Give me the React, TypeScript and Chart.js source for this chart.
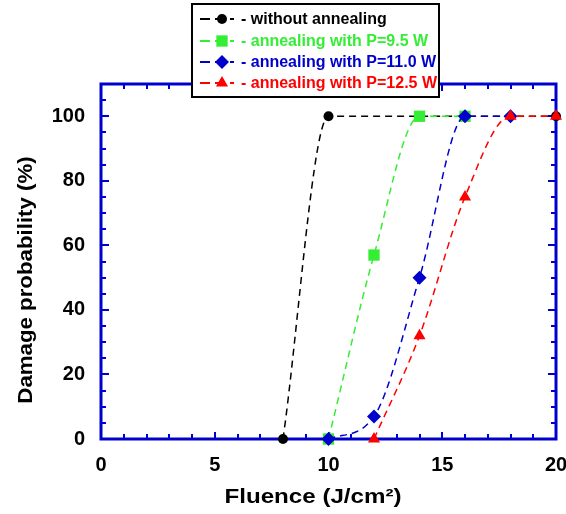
import React, { useEffect, useRef } from 'react';
import { Chart, registerables } from 'chart.js';
Chart.register(...registerables);

const blackX = [8, 10, 20];
const blackY = [0, 100, 100];
const greenX = [10, 12, 14, 16];
const greenY = [0, 57, 100, 100];
const blueX = [10, 12, 14, 16, 18];
const blueY = [0, 7, 50, 100, 100];
const redX = [12, 14, 16, 18, 20];
const redY = [0, 32, 75, 100, 100];

const seriesLabels = [
  '- without annealing',
  '- annealing with P=9.5 W',
  '- annealing with P=11.0 W',
  '- annealing with P=12.5 W',
];
const seriesColors = ['#000000', '#33ee33', '#0000cc', '#ff0000'];
const seriesStyles = ['circle', 'rect', 'rectRot', 'triangle'];
const seriesRadius = [5, 8, 7, 7];

const xTicks = [0, 5, 10, 15, 20];
const yTicks = [0, 20, 40, 60, 80, 100];
const xMin = 0, xMax = 20, yMin = 0, yMax = 110;

const xTitle = 'Fluence (J/cm²)';
const yTitle = 'Damage probability (%)';

const FRAME = '#0000cc';
const FONT = '"Liberation Sans", Arial, sans-serif';

function toPts(xs: number[], ys: number[]) {
  return xs.map((x, i) => ({ x, y: ys[i] }));
}

function drawMarker(ctx: CanvasRenderingContext2D, style: string, x: number, y: number, r: number, color: string) {
  ctx.save();
  ctx.fillStyle = color;
  ctx.beginPath();
  if (style === 'circle') {
    ctx.arc(x, y, r, 0, Math.PI * 2);
  } else if (style === 'rect') {
    const s = Math.SQRT1_2 * r;
    ctx.rect(x - s, y - s, 2 * s, 2 * s);
  } else if (style === 'rectRot') {
    ctx.moveTo(x - r, y);
    ctx.lineTo(x, y - r);
    ctx.lineTo(x + r, y);
    ctx.lineTo(x, y + r);
    ctx.closePath();
  } else {
    ctx.moveTo(x, y - r);
    ctx.lineTo(x + r * Math.sin((2 * Math.PI) / 3), y - r * Math.cos((2 * Math.PI) / 3));
    ctx.lineTo(x + r * Math.sin((4 * Math.PI) / 3), y - r * Math.cos((4 * Math.PI) / 3));
    ctx.closePath();
  }
  ctx.fill();
  ctx.restore();
}

const framePlugin = {
  id: 'framePlugin',
  beforeDatasetsDraw(chart: any) {
    const { ctx, chartArea: a, scales } = chart;
    const xs = scales.x, ys = scales.y;
    ctx.save();
    ctx.strokeStyle = FRAME;
    ctx.lineWidth = 2;
    for (let v = xMin; v <= xMax; v += 1) {
      const px = Math.round(xs.getPixelForValue(v));
      const len = v % 5 === 0 ? 7 : 5;
      ctx.beginPath();
      ctx.moveTo(px, a.bottom);
      ctx.lineTo(px, a.bottom - len);
      ctx.moveTo(px, a.top);
      ctx.lineTo(px, a.top + len);
      ctx.stroke();
    }
    for (let v = yMin; v <= yMax; v += 5) {
      const py = Math.round(ys.getPixelForValue(v));
      const len = v % 20 === 0 ? 8 : 5;
      ctx.beginPath();
      ctx.moveTo(a.left, py);
      ctx.lineTo(a.left + len, py);
      ctx.moveTo(a.right, py);
      ctx.lineTo(a.right - len, py);
      ctx.stroke();
    }
    ctx.lineWidth = 3;
    ctx.strokeRect(a.left, a.top, a.right - a.left, a.bottom - a.top);
    // axis titles
    ctx.fillStyle = '#000';
    ctx.font = `bold 21px ${FONT}`;
    ctx.textAlign = 'center';
    ctx.textBaseline = 'middle';
    ctx.save();
    ctx.translate(313, 497);
    ctx.scale(1.15, 1);
    ctx.fillText(xTitle, 0, 0);
    ctx.restore();
    ctx.save();
    ctx.translate(26, 280);
    ctx.rotate(-Math.PI / 2);
    ctx.scale(1.06, 1);
    ctx.fillText(yTitle, 0, 0);
    ctx.restore();
    ctx.restore();
  },
  afterDraw(chart: any) {
    const { ctx } = chart;
    ctx.save();
    const bx = 192, by = 4, bw = 247, bh = 93;
    ctx.fillStyle = '#fff';
    ctx.fillRect(bx, by, bw, bh);
    ctx.strokeStyle = '#000';
    ctx.lineWidth = 2;
    ctx.strokeRect(bx, by, bw, bh);
    const rows = [19, 41, 62, 83];
    ctx.font = `bold 16px ${FONT}`;
    ctx.textBaseline = 'middle';
    ctx.textAlign = 'left';
    rows.forEach((ry, i) => {
      const c = seriesColors[i];
      ctx.strokeStyle = c;
      ctx.lineWidth = 2;
      ctx.setLineDash([10, 5]);
      ctx.beginPath();
      ctx.moveTo(200, ry);
      ctx.lineTo(234, ry);
      ctx.stroke();
      ctx.setLineDash([]);
      drawMarker(ctx, seriesStyles[i], 222, ry, seriesRadius[i], c);
      ctx.fillStyle = c;
      ctx.fillText(seriesLabels[i], 241, ry + 1);
    });
    ctx.restore();
  },
};

export default function App() {
  const ref = useRef<HTMLCanvasElement>(null);
  useEffect(() => {
    if (!ref.current) return;
    const mk = (xs: number[], ys: number[], i: number, order: number) => ({
      label: seriesLabels[i],
      data: toPts(xs, ys),
      borderColor: seriesColors[i],
      backgroundColor: seriesColors[i],
      pointBackgroundColor: seriesColors[i],
      pointBorderColor: seriesColors[i],
      pointBorderWidth: 0,
      pointStyle: seriesStyles[i],
      pointRadius: seriesRadius[i],
      borderWidth: 1.5,
      borderDash: [7, 5],
      cubicInterpolationMode: 'monotone',
      fill: false,
      clip: false,
      order,
    });
    const chart = new Chart(ref.current, {
      type: 'line',
      data: {
        datasets: [
          mk(blackX, blackY, 0, 4),
          mk(greenX, greenY, 1, 3),
          mk(blueX, blueY, 2, 2),
          mk(redX, redY, 3, 1),
        ] as any,
      },
      options: {
        animation: false,
        responsive: false,
        events: [],
        layout: { padding: { top: 84, right: 10, left: 0, bottom: 0 } },
        plugins: { legend: { display: false }, tooltip: { enabled: false } },
        scales: {
          x: {
            type: 'linear',
            min: xMin,
            max: xMax,
            grid: { display: false, drawTicks: false },
            border: { display: false },
            afterFit: (s: any) => { s.height = 75; s.paddingLeft = 0; s.paddingRight = 0; },
            afterBuildTicks: (s: any) => { s.ticks = xTicks.map((v) => ({ value: v })); },
            ticks: { padding: 14, color: '#000', font: { family: FONT, size: 20, weight: 'bold' }, maxRotation: 0 },
          },
          y: {
            type: 'linear',
            min: yMin,
            max: yMax,
            grid: { display: false, drawTicks: false },
            border: { display: false },
            afterFit: (s: any) => { s.width = 101; s.paddingTop = 0; s.paddingBottom = 0; },
            afterBuildTicks: (s: any) => { s.ticks = yTicks.map((v) => ({ value: v })); },
            ticks: { padding: 16, color: '#000', font: { family: FONT, size: 20, weight: 'bold' } },
          },
        },
      } as any,
      plugins: [framePlugin],
    });
    return () => chart.destroy();
  }, []);
  return (
    <div style={{ position: 'fixed', left: 0, top: 0, width: 566, height: 514, background: '#fff' }}>
      <canvas ref={ref} width={566} height={514} />
    </div>
  );
}
